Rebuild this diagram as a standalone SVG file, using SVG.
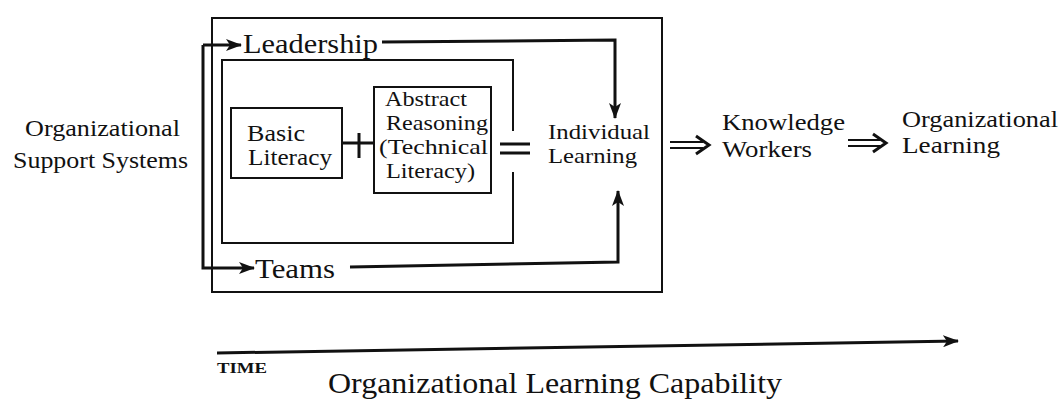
<svg xmlns="http://www.w3.org/2000/svg" width="1064" height="399" viewBox="0 0 1064 399">
  <style>
    .t { font-family: "Liberation Serif", "DejaVu Serif", "Times New Roman", serif; fill: #111; }
    .box { fill: none; stroke: #111; stroke-width: 2; }
    .ln { fill: none; stroke: #111; stroke-width: 3; }
    .thin { fill: none; stroke: #111; stroke-width: 2.2; }
  </style>
  <defs>
    <marker id="ah" viewBox="0 0 16 12" refX="15" refY="6" markerWidth="16" markerHeight="12" markerUnits="userSpaceOnUse" orient="auto">
      <path d="M0,0 L16,6 L0,12 L4,6 Z" fill="#111"/>
    </marker>
  </defs>

  <rect width="1064" height="399" fill="#fff"/>

  <!-- enclosing frames -->
  <g id="outer-frame">
    <rect class="box" x="212" y="18" width="450" height="274"/>
  </g>
  <g id="inner-frame">
    <path class="box" d="M513,131 V60 H222 V243 H513 V172"/>
  </g>

  <!-- nodes -->
  <g id="support-systems">
    <text class="t" x="25" y="136" font-size="24" textLength="155" lengthAdjust="spacingAndGlyphs">Organizational</text>
    <text class="t" x="13" y="168" font-size="24" textLength="175" lengthAdjust="spacingAndGlyphs">Support Systems</text>
  </g>
  <g id="leadership">
    <text class="t" x="243" y="53" font-size="27" textLength="135" lengthAdjust="spacingAndGlyphs">Leadership</text>
  </g>
  <g id="teams">
    <text class="t" x="255" y="278" font-size="27" textLength="80" lengthAdjust="spacingAndGlyphs">Teams</text>
  </g>
  <g id="basic-literacy">
    <rect class="box" x="231" y="108" width="111" height="70"/>
    <text class="t" x="247" y="141" font-size="23" textLength="58" lengthAdjust="spacingAndGlyphs">Basic</text>
    <text class="t" x="248" y="165" font-size="23" textLength="84" lengthAdjust="spacingAndGlyphs">Literacy</text>
  </g>
  <g id="plus">
    <path class="ln" d="M342,143 H374 M359,133 V158"/>
  </g>
  <g id="abstract-reasoning">
    <rect class="box" x="374" y="87" width="117" height="106"/>
    <text class="t" x="385" y="106" font-size="22" textLength="82" lengthAdjust="spacingAndGlyphs">Abstract</text>
    <text class="t" x="386" y="130" font-size="22" textLength="102" lengthAdjust="spacingAndGlyphs">Reasoning</text>
    <text class="t" x="379" y="154" font-size="22" textLength="109" lengthAdjust="spacingAndGlyphs">(Technical</text>
    <text class="t" x="386" y="178" font-size="22" textLength="89" lengthAdjust="spacingAndGlyphs">Literacy)</text>
  </g>
  <g id="equals">
    <path class="ln" d="M500,144 H530 M500,153 H530"/>
  </g>
  <g id="individual-learning">
    <text class="t" x="548" y="139" font-size="22" textLength="102" lengthAdjust="spacingAndGlyphs">Individual</text>
    <text class="t" x="548" y="163" font-size="22" textLength="89" lengthAdjust="spacingAndGlyphs">Learning</text>
  </g>
  <g id="knowledge-workers">
    <text class="t" x="722" y="130" font-size="24" textLength="123" lengthAdjust="spacingAndGlyphs">Knowledge</text>
    <text class="t" x="722" y="157" font-size="24" textLength="90" lengthAdjust="spacingAndGlyphs">Workers</text>
  </g>
  <g id="organizational-learning">
    <text class="t" x="902" y="127" font-size="24" textLength="156" lengthAdjust="spacingAndGlyphs">Organizational</text>
    <text class="t" x="902" y="153" font-size="24" textLength="98" lengthAdjust="spacingAndGlyphs">Learning</text>
  </g>
  <g id="time-axis-labels">
    <text class="t" x="217" y="373" font-size="15" font-weight="bold" textLength="50" lengthAdjust="spacingAndGlyphs">TIME</text>
    <text class="t" x="328" y="393" font-size="29" textLength="454" lengthAdjust="spacingAndGlyphs">Organizational Learning Capability</text>
  </g>

  <!-- connectors -->
  <g id="connectors">
    <path class="ln" d="M203,45 V268 H254" marker-end="url(#ah)"/>
    <path class="ln" d="M203,45 H241" marker-end="url(#ah)"/>
    <path class="ln" d="M382,42 L615,40 V118" marker-end="url(#ah)"/>
    <path class="ln" d="M350,267 L618,262 V191" marker-end="url(#ah)"/>
    <!-- implication arrows -->
    <path class="thin" d="M670,142 H703 M670,148 H703"/>
    <path class="ln" d="M696,136 L709,145 L696,154"/>
    <path class="thin" d="M848,140 H880 M848,146 H880"/>
    <path class="ln" d="M873,134 L886,143 L873,152"/>
    <!-- time axis -->
    <path class="ln" d="M217,353 L958,341" marker-end="url(#ah)"/>
  </g>
</svg>
